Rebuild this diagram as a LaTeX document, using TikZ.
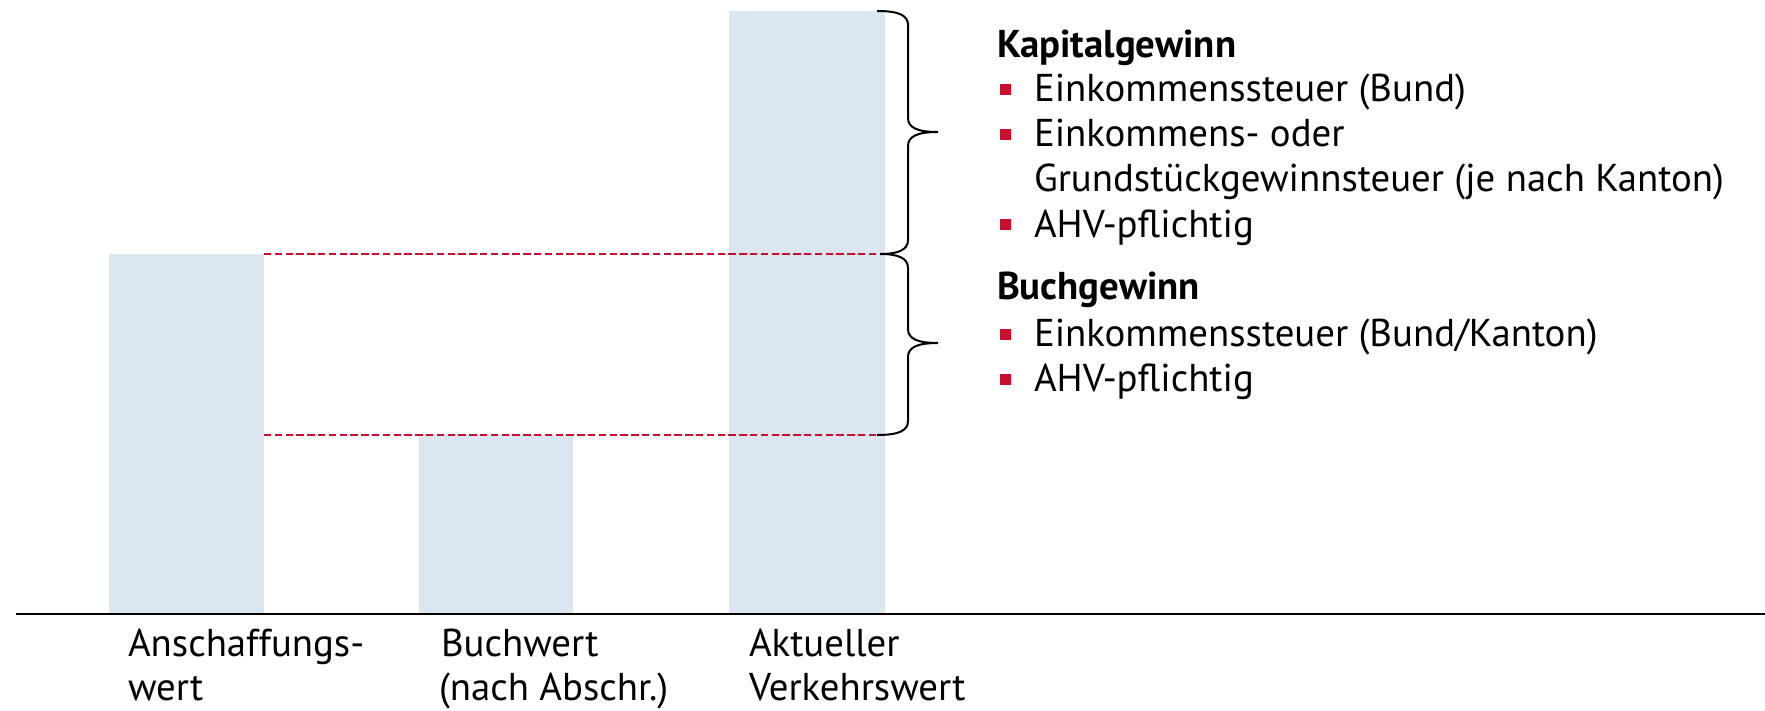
\documentclass[tikz,border=0pt]{standalone}
\usepackage{fontspec}
\setmainfont{PT Sans}
\definecolor{barblue}{RGB}{220,230,241}
\definecolor{crimson}{RGB}{200,16,46}
\newlength\refw
\AtBeginDocument{%
  \settowidth\refw{\fontsize{10pt}{12pt}\selectfont Grundstückgewinnsteuer (je nach Kanton)}%
  \pgfmathsetmacro\fsz{10*345/\refw}%
  \xdef\fsz{\fsz}%
}
\begin{document}
\begin{tikzpicture}[x=0.5pt,y=-0.5pt]
\tikzset{
  txt/.style={font=\fontsize{\fsz pt}{\fsz pt}\selectfont, inner sep=0pt, outer sep=0pt, anchor=base west, text=black},
  headtxt/.style={txt, font=\fontsize{\fsz pt}{\fsz pt}\selectfont\bfseries},
  barfill/.style={fill=barblue, draw=none},
  dashline/.style={draw=crimson, line width=1.3pt, dash pattern=on 3.7pt off 1.7pt},
  bracestyle/.style={draw=black, line width=1pt},
  bulletsq/.style={fill=crimson, draw=none, minimum size=5.5pt, inner sep=0pt, outer sep=0pt}
}
\useasboundingbox (0,0) rectangle (1765,711);
% bars
\coordinate (b1tl) at (109,254); \coordinate (b1br) at (264,614);
\coordinate (b2tl) at (419,435); \coordinate (b2br) at (573,614);
\coordinate (b3tl) at (729,11);  \coordinate (b3br) at (885,614);
\fill[barfill] (b1tl) rectangle (b1br);
\fill[barfill] (b2tl) rectangle (b2br);
\fill[barfill] (b3tl) rectangle (b3br);
% axis
\coordinate (axl) at (16,614); \coordinate (axr) at (1765,614);
\draw[line width=1pt] (axl) -- (axr);
% dashed lines
\coordinate (dup) at (880,254); \coordinate (dlo) at (879,435);
\draw[dashline] (b1br |- b1tl) -- (dup);
\draw[dashline] (264,435) -- (dlo);
% braces
\coordinate (brtop) at (877,11);
\draw[bracestyle] (brtop) .. controls (898,11) and (908,15) .. (908,25)
  -- (908,118) .. controls (908,128) and (918,132) .. (938,132)
  .. controls (918,132) and (908,136) .. (908,146)
  -- (908,240) .. controls (908,250) and (898,254) .. (dup);
\draw[bracestyle] (dup) .. controls (898,254) and (908,258) .. (908,268)
  -- (908,329) .. controls (908,339) and (918,343) .. (938,343)
  .. controls (918,343) and (908,347) .. (908,357)
  -- (908,421) .. controls (908,431) and (898,435) .. (877,435);
% right text
\node[headtxt] (kap) at (997,57.5) {Kapitalgewinn};
\node[txt] (k1) at (1034,102) {Einkommenssteuer (Bund)};
\node[txt] (k2) at (1034,147) {Einkommens- oder};
\node[txt] (k3) at (1034,192) {Grundstückgewinnsteuer (je nach Kanton)};
\node[txt] (k4) at (1034,237) {AHV-pflichtig};
\node[headtxt] (buch) at (997,299) {Buchgewinn};
\node[txt] (g1) at (1034,346) {Einkommenssteuer (Bund/Kanton)};
\node[txt] (g2) at (1034,391) {AHV-pflichtig};
\node[bulletsq] (bk1) at (1005,90) {};
\node[bulletsq] (bk2) at (1005,135) {};
\node[bulletsq] (bk4) at (1005,225) {};
\node[bulletsq] (bg1) at (1005,334) {};
\node[bulletsq] (bg2) at (1005,379) {};
% bottom labels
\node[txt] (l1a) at (128,656) {Anschaffungs-};
\node[txt] (l1b) at (128,700) {wert};
\node[txt] (l2a) at (441,656) {Buchwert};
\node[txt] (l2b) at (439,700) {(nach Abschr.)};
\node[txt] (l3a) at (749,656) {Aktueller};
\node[txt] (l3b) at (749,700) {Verkehrswert};
\end{tikzpicture}
\end{document}
